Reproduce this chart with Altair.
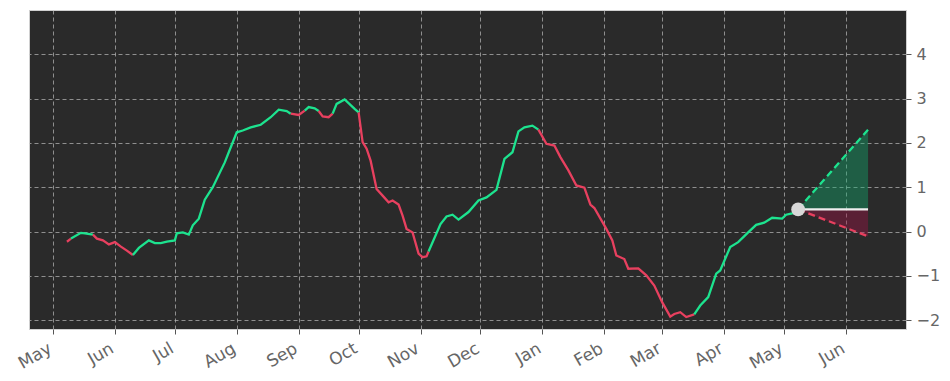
import altair as alt
import pandas as pd

# ---- history series ----
dates = [
    "2023-05-08", "2023-05-10", "2023-05-15", "2023-05-17", "2023-05-21", "2023-05-23",
    "2023-05-26", "2023-05-29", "2023-06-01", "2023-06-04", "2023-06-07", "2023-06-10",
    "2023-06-13", "2023-06-18", "2023-06-21", "2023-06-24", "2023-06-27", "2023-07-01",
    "2023-07-02", "2023-07-05", "2023-07-08", "2023-07-10", "2023-07-13", "2023-07-16",
    "2023-07-20", "2023-07-26", "2023-07-28", "2023-08-01", "2023-08-04", "2023-08-08",
    "2023-08-13", "2023-08-18", "2023-08-22", "2023-08-26", "2023-08-28", "2023-09-01",
    "2023-09-04", "2023-09-06", "2023-09-09", "2023-09-11", "2023-09-13", "2023-09-16",
    "2023-09-18", "2023-09-20", "2023-09-24", "2023-09-29", "2023-10-01", "2023-10-03",
    "2023-10-05", "2023-10-07", "2023-10-10", "2023-10-13", "2023-10-16", "2023-10-18",
    "2023-10-21", "2023-10-23", "2023-10-25", "2023-10-28", "2023-10-31", "2023-11-02",
    "2023-11-04", "2023-11-05", "2023-11-11", "2023-11-14", "2023-11-17", "2023-11-20",
    "2023-11-25", "2023-11-30", "2023-12-04", "2023-12-09", "2023-12-13", "2023-12-17",
    "2023-12-20", "2023-12-23", "2023-12-27", "2023-12-30", "2024-01-03", "2024-01-07",
    "2024-01-10", "2024-01-14", "2024-01-18", "2024-01-22", "2024-01-25", "2024-01-27",
    "2024-02-02", "2024-02-05", "2024-02-07", "2024-02-11", "2024-02-13", "2024-02-18",
    "2024-02-22", "2024-02-26", "2024-03-01", "2024-03-05", "2024-03-07", "2024-03-10",
    "2024-03-13", "2024-03-17", "2024-03-20", "2024-03-24", "2024-03-28", "2024-03-30",
    "2024-04-04", "2024-04-08", "2024-04-13", "2024-04-17", "2024-04-21", "2024-04-25",
    "2024-04-30", "2024-05-02", "2024-05-05", "2024-05-08",
]
values = [
    -0.23, -0.16, -0.03, -0.04, -0.07, -0.16,
    -0.20, -0.29, -0.24, -0.34, -0.43, -0.53,
    -0.37, -0.20, -0.26, -0.26, -0.23, -0.20,
    -0.04, -0.02, -0.07, 0.14, 0.29, 0.72,
    1.00, 1.56, 1.79, 2.24, 2.28, 2.35,
    2.41, 2.58, 2.75, 2.72, 2.66, 2.63,
    2.73, 2.81, 2.78, 2.72, 2.60, 2.58,
    2.66, 2.88, 2.98, 2.77, 2.69, 2.02,
    1.87, 1.60, 0.96, 0.81, 0.66, 0.70,
    0.61, 0.36, 0.06, -0.02, -0.50, -0.58,
    -0.56, -0.45, 0.17, 0.34, 0.38, 0.27,
    0.44, 0.70, 0.77, 0.94, 1.64, 1.79,
    2.26, 2.35, 2.39, 2.30, 1.98, 1.94,
    1.68, 1.38, 1.04, 0.99, 0.61, 0.53,
    0.06, -0.20, -0.54, -0.62, -0.84, -0.83,
    -0.99, -1.22, -1.60, -1.92, -1.86, -1.82,
    -1.93, -1.87, -1.67, -1.48, -0.95, -0.88,
    -0.35, -0.24, -0.02, 0.15, 0.20, 0.31,
    0.29, 0.38, 0.41, 0.47,
]
# trend of the segment that starts at each point
trend = (
    ["down"] + ["up"] * 3 + ["down"] * 7 + ["up"] * 23 + ["down"] * 2
    + ["up"] * 3 + ["down"] * 3 + ["up"] * 4 + ["down"] * 15 + ["up"] * 14
    + ["down"] * 22 + ["up"] * 15
)

# ---- forecast cone ----
fc_dates = ["2024-05-08", "2024-06-12"]
fc_upper = [0.5, 2.3]
fc_mid = [0.5, 0.5]
fc_lower = [0.5, -0.11]
last_date = ["2024-05-08"]
last_value = [0.5]

month_ticks = [(2023, m) for m in range(5, 13)] + [(2024, m) for m in range(1, 7)]

GREEN = "#1de38f"
RED = "#e8405f"

# build contiguous colored segments
rows = []
seg = 0
for i in range(len(dates)):
    t = trend[min(i, len(trend) - 1)]
    if i > 0:
        tp = trend[min(i - 1, len(trend) - 1)]
        if t != tp:
            rows.append({"date": dates[i], "value": values[i], "seg": seg, "trend": tp})
            seg += 1
    rows.append({"date": dates[i], "value": values[i], "seg": seg, "trend": t})
hist = pd.DataFrame(rows)
fc = pd.DataFrame({"date": fc_dates, "upper": fc_upper, "mid": fc_mid, "lower": fc_lower})
dot = pd.DataFrame({"date": last_date, "value": last_value})

xscale = alt.Scale(
    type="utc",
    domain=[alt.DateTime(year=2023, month=4, date=19, utc=True),
            alt.DateTime(year=2024, month=7, date=1, utc=True)],
)
xaxis = alt.Axis(
    title=None,
    values=[alt.DateTime(year=y, month=m, date=1, utc=True) for y, m in month_ticks],
    labelExpr="utcFormat(datum.value, '%b')",
    labelAngle=-30, labelAlign="right", labelBaseline="top",
    labelPadding=6, labelOffset=-7, labelFontSize=17,
)
yscale = alt.Scale(domain=[-2.2, 5.0], nice=False, zero=False)
yaxis = alt.Axis(title=None, orient="right", values=[-2, -1, 0, 1, 2, 3, 4], labelPadding=5)

X = alt.X("date:T", scale=xscale, axis=xaxis)

line = alt.Chart(hist).mark_line(strokeWidth=2.3).encode(
    x=X,
    y=alt.Y("value:Q", scale=yscale, axis=yaxis),
    color=alt.Color("trend:N", scale=alt.Scale(domain=["up", "down"], range=[GREEN, RED]), legend=None),
    detail="seg:N",
)

base_fc = alt.Chart(fc).encode(x=X)
area_up = base_fc.mark_area(color="#0eac6d", opacity=0.4).encode(
    y=alt.Y("mid:Q", scale=yscale), y2="upper:Q")
area_dn = base_fc.mark_area(color="#a21145", opacity=0.4).encode(
    y=alt.Y("lower:Q", scale=yscale), y2="mid:Q")
up_line = base_fc.mark_line(color=GREEN, strokeDash=[7, 4], strokeWidth=2.3).encode(
    y=alt.Y("upper:Q", scale=yscale))
dn_line = base_fc.mark_line(color=RED, strokeDash=[7, 4], strokeWidth=2.3).encode(
    y=alt.Y("lower:Q", scale=yscale))
mid_line = base_fc.mark_line(color="#eeeeee", strokeWidth=2.3).encode(
    y=alt.Y("mid:Q", scale=yscale))
pt = alt.Chart(dot).mark_circle(size=190, color="#d8d8d8", opacity=1).encode(
    x=X, y=alt.Y("value:Q", scale=yscale))

chart = alt.layer(line, area_up, area_dn, up_line, dn_line, mid_line, pt).properties(
    width=877, height=319,
    autosize=alt.AutoSizeParams(type="none"),
    padding={"left": 21, "top": 2, "right": 36, "bottom": 44},
    background="white",
).configure_view(
    fill="#2a2a2a", stroke="#d0d0d0", strokeWidth=1,
).configure_axis(
    grid=True, gridColor="#b8b8b8", gridDash=[4, 3], gridWidth=0.9, gridOpacity=0.8,
    domain=False, tickColor="#555555", tickSize=5, tickWidth=1,
    labelColor="#666666", labelFontSize=16, labelFont="DejaVu Sans",
)

chart.save("out.html", embed_options={"renderer": "svg", "actions": False})
